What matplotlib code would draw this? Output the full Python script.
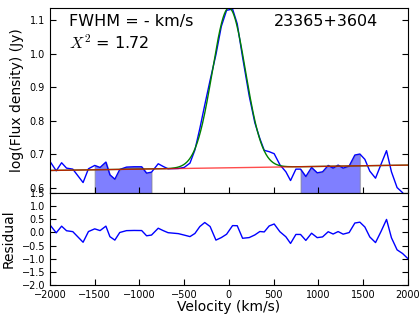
import matplotlib
matplotlib.use('Agg')
import matplotlib.pyplot as plt
import numpy as np

# spectrum channels (km/s) and log flux density (Jy)
velocity = [-1995, -1930, -1870, -1815, -1745, -1630, -1570, -1500, -1440, -1375,
            -1330, -1275, -1220, -1145, -1060, -975, -920, -865, -790, -735,
            -680, -565, -500, -435, -380, -325, -270, -210, -145, -85,
            -26, 41, 93, 153, 227, 290, 346, 395, 450, 506,
            570, 637, 689, 749, 801, 860, 924, 987, 1047, 1110,
            1165, 1221, 1277, 1344, 1408, 1464, 1520, 1575, 1639, 1700,
            1762, 1817, 1880, 1941, 2003]
flux = [0.677, 0.651, 0.675, 0.659, 0.656, 0.616, 0.657, 0.667, 0.661, 0.677,
        0.639, 0.626, 0.655, 0.662, 0.663, 0.663, 0.644, 0.647, 0.672, 0.664,
        0.657, 0.658, 0.661, 0.674, 0.713, 0.777, 0.847, 0.921, 0.997, 1.081,
        1.129, 1.133, 1.089, 0.989, 0.874, 0.794, 0.747, 0.712, 0.708, 0.702,
        0.669, 0.648, 0.622, 0.656, 0.656, 0.634, 0.661, 0.645, 0.648, 0.667,
        0.659, 0.668, 0.659, 0.665, 0.698, 0.701, 0.685, 0.650, 0.629, 0.670,
        0.711, 0.648, 0.601, 0.586, 0.563]

# fitted continuum + gaussian (log units)
cont_level = 0.660
cont_slope = 4.0e-6
peak_amp = 0.476
peak_center = 0.0
peak_sigma = 185.0

# line-free windows used for the baseline
baseline_windows = [(-1500, -865), (801, 1464)]

source_name = '23365+3604'
fwhm_text = 'FWHM = - km/s'
chi2_text = '$X^2$ = 1.72'

plt.rcParams['xtick.direction'] = 'in'
plt.rcParams['ytick.direction'] = 'in'
plt.rcParams['xtick.top'] = False
plt.rcParams['ytick.right'] = True
plt.rcParams['xtick.major.size'] = 4
plt.rcParams['ytick.major.size'] = 4
plt.rcParams['mathtext.fontset'] = 'cm'

vel = np.array(velocity)
flx = np.array(flux)
vfine = np.linspace(-2000, 2000, 801)
cont = cont_level + cont_slope * vfine
model = cont + peak_amp * np.exp(-(vfine - peak_center) ** 2 / (2 * peak_sigma ** 2))
model_at_data = np.interp(vel, vfine, model)
# residual in linear flux (Jy)
resid = 10 ** flx - 10 ** model_at_data

fig = plt.figure(figsize=(4.2, 3.2), dpi=100)
ax1 = fig.add_axes([0.119, 0.397, 0.852, 0.578])
ax2 = fig.add_axes([0.119, 0.109, 0.852, 0.288], sharex=ax1)

for lo, hi in baseline_windows:
    m = (vel >= lo) & (vel <= hi)
    ax1.fill_between(vel[m], 0, flx[m], facecolor='b', alpha=0.5,
                     edgecolor='0.5', linewidth=1)
ax1.plot(vel, flx, color='b', lw=1)
ax1.plot(vfine, model, color='g', lw=1)
ax1.plot(vfine, cont, color='r', lw=1, alpha=0.7)

ax1.set_xlim(-2000, 2000)
ax1.set_ylim(0.585, 1.136)
ax1.set_yticks([0.6, 0.7, 0.8, 0.9, 1.0, 1.1])
ax1.set_ylabel('log(Flux density) (Jy)', fontsize=10)
ax1.tick_params(labelbottom=False, labelsize=7)
ax1.text(0.053, 0.903, fwhm_text, transform=ax1.transAxes, fontsize=11.5)
ax1.text(0.053, 0.78, chi2_text, transform=ax1.transAxes, fontsize=11.5)
ax1.text(0.627, 0.903, source_name, transform=ax1.transAxes, fontsize=11.5)

ax2.plot(vel, resid, color='b', lw=1)
ax2.set_ylim(-2.0, 1.5)
ax2.set_yticks(np.arange(-2.0, 1.51, 0.5))
ax2.set_xticks(np.arange(-2000, 2001, 500))
ax2.tick_params(labelsize=7)
ax2.set_ylabel('Residual', fontsize=10)
ax2.set_xlabel('Velocity (km/s)', fontsize=10, labelpad=0)

fig.savefig('out.png', dpi=100)
